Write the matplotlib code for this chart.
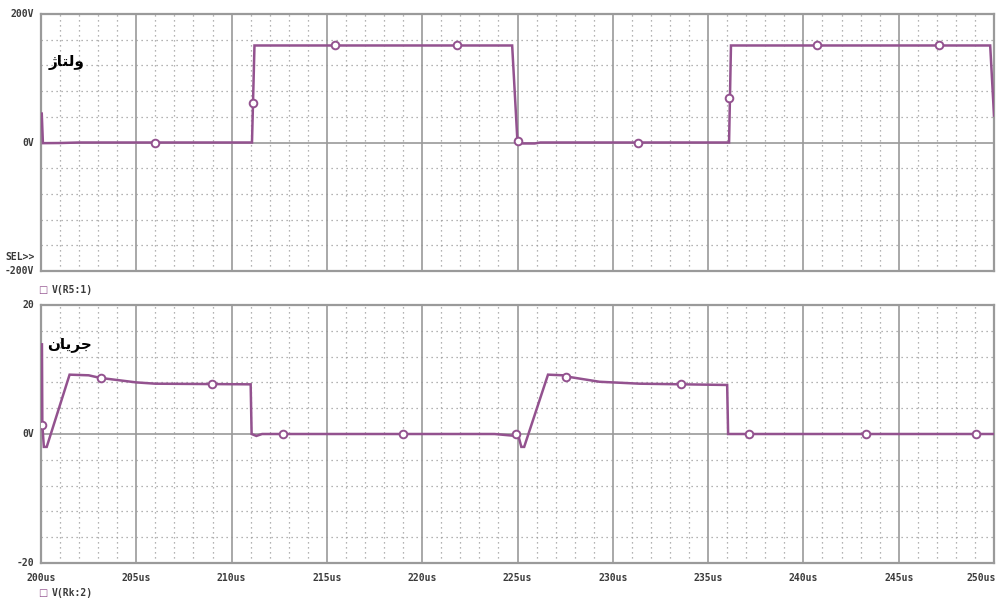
import matplotlib
matplotlib.use("Agg")
import matplotlib.pyplot as plt
from matplotlib.ticker import MultipleLocator

# ---------------- data ----------------
# top trace: V(R5:1)  [time in us, volts]
v_time = [200.04, 200.1, 201.0, 202.0, 211.07, 211.2, 224.72, 225.0, 225.3, 225.9,
          226.2, 236.1, 236.2, 249.8, 250.0]
v_volt = [45, -1, -0.8, 0, 0, 151, 151, 0, -1.5, -1.5, 0, 0, 151, 151, 42]
v_mark_time = [206.0, 211.1, 215.45, 221.85, 225.0, 231.3, 236.12, 240.7, 247.1]
v_mark_volt = [0, 61, 151, 151, 3, 0, 70, 151, 151]

# bottom trace: V(Rk:2)
i_time = [200.05, 200.07, 200.15, 200.3, 201.5, 202.5, 203.1, 205.0, 206.0, 211.0,
          211.05, 211.3, 211.6, 223.8, 224.9, 225.05, 225.2, 225.35, 226.6, 227.4,
          227.6, 229.3, 231.4, 236.0, 236.05, 250.0]
i_val = [13.9, 1.4, -2.0, -2.0, 9.2, 9.1, 8.7, 8.0, 7.8, 7.7,
         0, -0.3, 0, 0, -0.3, -0.3, -2.0, -2.0, 9.2, 9.1,
         8.9, 8.1, 7.8, 7.6, 0, 0]
i_mark_time = [200.07, 203.14, 208.96, 212.7, 219.0, 224.9, 227.57, 233.6, 237.16, 243.3, 249.06]
i_mark_val = [1.4, 8.7, 7.8, 0, 0, 0, 8.9, 7.8, 0, 0, 0]

x_ticks = [200, 205, 210, 215, 220, 225, 230, 235, 240, 245, 250]
x_labels = [f"{t}us" for t in x_ticks]
top_ylabels = ["200V", "0V", "-200V"]
bot_ylabels = ["20", "0V", "-20"]
top_legend = "V(R5:1)"
bot_legend = "V(Rk:2)"
top_title = "\uFB8A\uFE8E\uFE98\uFEDF\uFEED"   # ولتاژ (visual order, shaped)
bot_title = "\uFEE5\uFE8E\uFBFE\uFEAE\uFE9F"   # جریان (visual order, shaped)

# ---------------- style ----------------
W, H = 1001, 599
fig = plt.figure(figsize=(W / 100, H / 100), dpi=100)
trace_c = "#93528f"
grid_c = "#9a9a9a"
text_c = "#3a3a3a"
mono = {"family": "DejaVu Sans Mono", "weight": "bold", "size": 7, "color": text_c}


def fx(px):
    return px / W


def fy(py):
    return 1 - py / H


left, right = 41, 994
ax1 = fig.add_axes([fx(left), fy(271), fx(right - left), fy(14) - fy(271)])
ax2 = fig.add_axes([fx(left), fy(563), fx(right - left), fy(305) - fy(563)])


def style(ax, ymax, ystep):
    ax.set_xlim(200, 250)
    ax.set_ylim(-ymax, ymax)
    ax.xaxis.set_major_locator(MultipleLocator(5))
    ax.xaxis.set_minor_locator(MultipleLocator(1))
    ax.yaxis.set_major_locator(MultipleLocator(ymax))
    ax.yaxis.set_minor_locator(MultipleLocator(ystep))
    ax.grid(which="minor", color=grid_c, linestyle=(0, (1, 3)), linewidth=0.9)
    ax.grid(which="major", color=grid_c, linestyle="-", linewidth=1.2)
    ax.tick_params(which="both", length=0, labelbottom=False, labelleft=False)
    for s in ax.spines.values():
        s.set_color(grid_c)
        s.set_linewidth(1.6)
    ax.set_axisbelow(True)


style(ax1, 200, 40)
style(ax2, 20, 4)

ax1.plot(v_time, v_volt, color=trace_c, lw=1.8, solid_joinstyle="miter", zorder=5)
ax1.plot(v_mark_time, v_mark_volt, ls="none", marker="o", ms=5.5, mfc="white",
         mec=trace_c, mew=1.4, zorder=6)
ax2.plot(i_time, i_val, color=trace_c, lw=1.8, solid_joinstyle="miter", zorder=5)
ax2.plot(i_mark_time, i_mark_val, ls="none", marker="o", ms=5.5, mfc="white",
         mec=trace_c, mew=1.4, zorder=6)

# y labels
for ax, labs, ymax in ((ax1, top_ylabels, 200), (ax2, bot_ylabels, 20)):
    for lab, yv in zip(labs, (ymax, 0, -ymax)):
        ax.text(-0.007, yv, lab, transform=ax.get_yaxis_transform(),
                ha="right", va="center", **mono)
fig.text(fx(35), fy(257), "SEL>>", ha="right", va="center", **mono)

# x labels
for t, lab in zip(x_ticks, x_labels):
    if t == x_ticks[-1]:
        ax2.text(1.002, -0.06, lab, transform=ax2.transAxes,
                 ha="right", va="center", **mono)
    else:
        ax2.text(t, -0.06, lab, transform=ax2.get_xaxis_transform(),
                 ha="center", va="center", **mono)

# legends
fig.text(fx(43), fy(290), "\u25A1", ha="center", va="center",
         family="DejaVu Sans", size=7, color=trace_c)
fig.text(fx(52), fy(290), top_legend, ha="left", va="center", **mono)
fig.text(fx(43), fy(593), "\u25A1", ha="center", va="center",
         family="DejaVu Sans", size=7, color=trace_c)
fig.text(fx(52), fy(593), bot_legend, ha="left", va="center", **mono)

# Persian handwritten labels
fig.text(fx(67), fy(62), top_title, ha="center", va="center",
         family="DejaVu Sans", weight="bold", size=11, color="black")
fig.text(fx(70), fy(344), bot_title, ha="center", va="center",
         family="DejaVu Sans", weight="bold", size=11, color="black")

fig.savefig("out.png", dpi=100)
